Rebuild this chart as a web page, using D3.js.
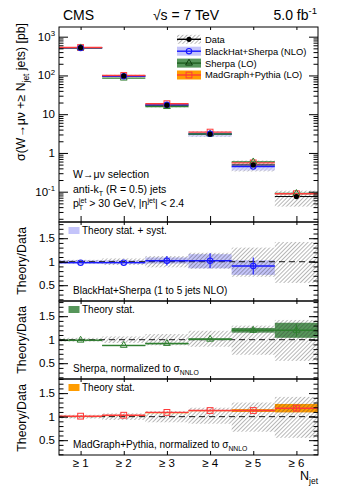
<!DOCTYPE html>
<html>
<head>
<meta charset="utf-8">
<script src="https://cdn.jsdelivr.net/npm/d3@7"></script>
<style>
  body { margin: 0; background: #fff; }
  text { font-family: "Liberation Sans", Arial, sans-serif; white-space: pre; fill: #000; }
</style>
</head>
<body>
<div id="chart"></div>
<script>
// values
const nJet = [1, 2, 3, 4, 5, 6];
const xLabels = ["≥ 1", "≥ 2", "≥ 3", "≥ 4", "≥ 5", "≥ 6"];
const dataXsec = [520, 97, 17.1, 3.05, 0.49, 0.075];
const dataErrUp = [0.04, 0.07, 0.12, 0.19, 0.30, 0.42];
const dataErrDown = [0.04, 0.07, 0.12, 0.15, 0.32, 0.45];

// BlackHat+Sherpa (NLO), only 1 to 5 jets
const bhRatio = [0.98, 0.98, 1.02, 1.02, 0.91];
const bhBandLow = [0.95, 0.95, 0.96, 0.86, 0.72];
const bhBandHigh = [1.03, 1.03, 1.09, 1.16, 1.03];
const bhErr = [0.01, 0.01, 0.10, 0.16, 0.18];

// Sherpa (LO)
const sherpaRatio = [0.99, 0.88, 0.92, 1.01, 1.20, 1.20];
const sherpaStat = [0.006, 0.006, 0.008, 0.02, 0.05, 0.16];
const sherpaErr = [0.01, 0.01, 0.01, 0.02, 0.06, 0.13];

// MadGraph+Pythia (LO)
const mgRatio = [1.01, 1.03, 1.09, 1.13, 1.13, 1.18];
const mgStat = [0.006, 0.006, 0.006, 0.01, 0.03, 0.09];
const mgErr = [0.01, 0.01, 0.01, 0.02, 0.03, 0.06];

const yMainTicks = [0.1, 1, 10, 100, 1000];
const yMainTickLabels = [["10", "-1"], ["1", ""], ["10", ""], ["10", "2"], ["10", "3"]];
const yRatioTicks = [0.5, 1, 1.5];
const yRatioTickLabels = ["0.5", "1", "1.5"];

// colours
const blue = "#1a1aff", blueBand = "#c4c4fa";
const green = "#2f7f2f", greenBand = "#56965a";
const red = "#ff3a3a", orangeBand = "#ff9c00";

const W = 357, H = 493;
const left = 59, right = 318;

const svg = d3.select("#chart").append("svg")
    .attr("width", W).attr("height", H);

const defs = svg.append("defs");
defs.append("pattern")
    .attr("id", "hatch")
    .attr("patternUnits", "userSpaceOnUse")
    .attr("width", 2.9).attr("height", 2.9)
    .attr("patternTransform", "rotate(45)")
  .append("line")
    .attr("x1", 0).attr("y1", 0).attr("x2", 0).attr("y2", 2.9)
    .attr("stroke", "#333").attr("stroke-width", 0.7);

// text with sub / superscripts
function rich(parent, x, y, parts, size, anchor, rotate) {
    const g = parent.append("g")
        .attr("transform", `translate(${x},${y})` + (rotate ? ` rotate(${rotate})` : ""));
    let cx = 0;
    parts.forEach(p => {
        const str = p[0], mode = p[1] || "n";
        if (mode === "n") {
            const t = g.append("text").attr("x", cx).attr("y", 0).attr("font-size", size).text(str);
            cx += t.node().getComputedTextLength();
        } else if (mode === "sub" || mode === "sup") {
            const t = g.append("text").attr("x", cx)
                .attr("y", mode === "sub" ? size * 0.3 : -size * 0.42)
                .attr("font-size", size * 0.68).text(str);
            cx += t.node().getComputedTextLength();
        } else {
            const a = g.append("text").attr("x", cx).attr("y", size * 0.32).attr("font-size", size * 0.68).text(str);
            const b = g.append("text").attr("x", cx).attr("y", -size * 0.42).attr("font-size", size * 0.68).text(p[2]);
            cx += Math.max(a.node().getComputedTextLength(), b.node().getComputedTextLength());
        }
    });
    const shift = anchor === "end" ? -cx : anchor === "middle" ? -cx / 2 : 0;
    if (shift) g.selectAll("text").attr("x", function() { return +this.getAttribute("x") + shift; });
    return g;
}

const x = d3.scaleLinear().domain([0.5, 6.5]).range([left, right]);
const binW = x(1.5) - x(0.5);

function clip(id, top, bottom) {
    defs.append("clipPath").attr("id", id)
      .append("rect").attr("x", left).attr("y", top).attr("width", right - left).attr("height", bottom - top);
}

function marker(g, type, cx, cy, color) {
    if (type === "circle") {
        g.append("circle").attr("cx", cx).attr("cy", cy).attr("r", 2.7)
            .attr("fill", "none").attr("stroke", color).attr("stroke-width", 1.1);
    } else if (type === "triangle") {
        g.append("path").attr("d", d3.symbol(d3.symbolTriangle, 20)())
            .attr("transform", `translate(${cx},${cy})`)
            .attr("fill", "none").attr("stroke", color).attr("stroke-width", 1);
    } else if (type === "square") {
        g.append("rect").attr("x", cx - 2.9).attr("y", cy - 2.9).attr("width", 5.8).attr("height", 5.8)
            .attr("fill", "none").attr("stroke", color).attr("stroke-width", 1);
    } else if (type === "dot") {
        g.append("circle").attr("cx", cx).attr("cy", cy).attr("r", 2.6).attr("fill", "#000");
    }
}

function xTicks(top, bottom, lenBottom, lenTop) {
    svg.append("g").attr("transform", `translate(0,${bottom})`)
        .call(d3.axisTop(x).tickValues(nJet).tickSize(lenBottom).tickFormat(""))
        .call(g => g.select(".domain").remove());
    svg.append("g").attr("transform", `translate(0,${top})`)
        .call(d3.axisBottom(x).tickValues(nJet).tickSize(lenTop).tickFormat(""))
        .call(g => g.select(".domain").remove());
}

function yTicks(scale, majors, minors) {
    [[d3.axisRight, left], [d3.axisLeft, right]].forEach(([ax, pos]) => {
        svg.append("g").attr("transform", `translate(${pos},0)`)
            .call(ax(scale).tickValues(majors).tickSize(9).tickFormat(""))
            .call(g => g.select(".domain").remove());
        svg.append("g").attr("transform", `translate(${pos},0)`)
            .call(ax(scale).tickValues(minors).tickSize(4.5).tickFormat(""))
            .call(g => g.select(".domain").remove());
    });
}

// ---------------- main panel ----------------
const mainTop = 27, mainBottom = 222;
const yMain = d3.scaleLog().domain([0.01652, 1778]).range([mainBottom, mainTop]);
clip("clipMain", mainTop, mainBottom);
const gm = svg.append("g").attr("clip-path", "url(#clipMain)");

nJet.forEach((n, i) => {
    const x0 = x(n - 0.5), d = dataXsec[i];
    // data uncertainty
    gm.append("rect").attr("x", x0).attr("width", binW)
        .attr("y", yMain(d * (1 + dataErrUp[i])))
        .attr("height", yMain(d * (1 - dataErrDown[i])) - yMain(d * (1 + dataErrUp[i])))
        .attr("fill", "url(#hatch)");
    // theory band (BlackHat stat + syst)
    if (i < bhRatio.length) {
        gm.append("rect").attr("x", x0).attr("width", binW)
            .attr("y", yMain(d * bhBandHigh[i]))
            .attr("height", Math.max(1.5, yMain(d * bhBandLow[i]) - yMain(d * bhBandHigh[i])))
            .attr("fill", blueBand).attr("opacity", 0.7);
    }
    // data line
    gm.append("line").attr("x1", x0).attr("x2", x0 + binW)
        .attr("y1", yMain(d)).attr("y2", yMain(d)).attr("stroke", "#000").attr("stroke-width", 1);
    // theory lines
    const lines = [[sherpaRatio, green], [mgRatio, red]];
    if (i < bhRatio.length) lines.unshift([bhRatio, blue]);
    lines.forEach(([r, c]) => {
        gm.append("line").attr("x1", x0).attr("x2", x0 + binW)
            .attr("y1", yMain(d * r[i])).attr("y2", yMain(d * r[i]))
            .attr("stroke", c).attr("stroke-width", 1.4);
    });
    marker(gm, "square", x(n), yMain(d * mgRatio[i]), red);
    marker(gm, "triangle", x(n), yMain(d * sherpaRatio[i]), green);
    if (i < bhRatio.length) marker(gm, "circle", x(n), yMain(d * bhRatio[i]), blue);
    marker(gm, "dot", x(n), yMain(d), "#000");
});

const logMinors = [];
[0.01, 0.1, 1, 10, 100, 1000].forEach(dec => d3.range(2, 10).forEach(m => {
    const v = m * dec;
    if (v > 0.01652 && v < 1778) logMinors.push(v);
}));
yTicks(yMain, yMainTicks, logMinors);
xTicks(mainTop, mainBottom, 6, 3);

yMainTicks.forEach((v, i) => {
    const [base, exp] = yMainTickLabels[i];
    const parts = [[base]];
    if (exp) parts.push([exp, "sup"]);
    rich(svg, 55, yMain(v) + 4, parts, 11.5, "end");
});

svg.append("rect").attr("x", left).attr("y", mainTop).attr("width", right - left).attr("height", mainBottom - mainTop)
    .attr("fill", "none").attr("stroke", "#000").attr("stroke-width", 1);

// header
svg.append("text").attr("x", 63).attr("y", 20).attr("font-size", 14).text("CMS");
svg.append("text").attr("x", 186).attr("y", 20).attr("font-size", 14).attr("text-anchor", "middle").text("√s = 7 TeV");
rich(svg, 317, 20, [["5.0 fb"], ["-1", "sup"]], 14, "end");

// y title
rich(svg, 25, 23, [["σ(W→μν +≥ N"], ["jet", "sub"], [" jets) [pb]"]], 12.3, "end", -90);

// legend
const legend = [
    { label: "Data", fill: "url(#hatch)", line: "#000", m: "dot", mc: "#000" },
    { label: "BlackHat+Sherpa (NLO)", fill: blueBand, line: blue, m: "circle", mc: blue },
    { label: "Sherpa (LO)", fill: greenBand, line: "#1f5f1f", m: "triangle", mc: "#0f3f0f" },
    { label: "MadGraph+Pythia (LO)", fill: orangeBand, line: red, m: "square", mc: red }
];
legend.forEach((l, i) => {
    const cy = 39.3 + i * 11.9;
    const g = svg.append("g");
    g.append("rect").attr("x", 177).attr("y", cy - 4.5).attr("width", 24).attr("height", 9).attr("fill", l.fill);
    g.append("line").attr("x1", 177).attr("x2", 201).attr("y1", cy).attr("y2", cy)
        .attr("stroke", l.line).attr("stroke-width", 1.4);
    marker(g, l.m, 189, cy, l.mc);
    g.append("text").attr("x", 205).attr("y", cy + 3.4).attr("font-size", 9.4).text(l.label);
});

// selection text
rich(svg, 73, 178, [["W→μν selection"]], 10.5);
rich(svg, 73, 193, [["anti-k"], ["T", "sub"], [" (R = 0.5) jets"]], 10.5);
rich(svg, 73, 207, [["p"], ["T", "subsup", "jet"], [" > 30 GeV, |η"], ["jet", "sup"], ["| < 2.4"]], 10.5);

// ---------------- ratio panels ----------------
const ratioPanels = [
    { top: 222, bottom: 301, domain: [0.164, 1.845], ratio: bhRatio, low: bhBandLow, high: bhBandHigh,
      err: bhErr, color: blue, band: blueBand, m: "circle", legend: "Theory stat. + syst.",
      note: [["BlackHat+Sherpa (1 to 5 jets NLO)"]] },
    { top: 301, bottom: 379, domain: [0.164, 1.823], ratio: sherpaRatio,
      low: sherpaRatio.map((r, i) => r - sherpaStat[i]), high: sherpaRatio.map((r, i) => r + sherpaStat[i]),
      err: sherpaErr, color: green, band: greenBand, m: "triangle", legend: "Theory stat.",
      note: [["Sherpa, normalized to σ"], ["NNLO", "sub"]] },
    { top: 379, bottom: 455, domain: [0.185, 1.80], ratio: mgRatio,
      low: mgRatio.map((r, i) => r - mgStat[i]), high: mgRatio.map((r, i) => r + mgStat[i]),
      err: mgErr, color: red, band: orangeBand, m: "square", legend: "Theory stat.",
      note: [["MadGraph+Pythia, normalized to σ"], ["NNLO", "sub"]] }
];

ratioPanels.forEach((p, k) => {
    const y = d3.scaleLinear().domain(p.domain).range([p.bottom, p.top]);
    clip("clipR" + k, p.top, p.bottom);
    const g = svg.append("g").attr("clip-path", `url(#clipR${k})`);

    p.ratio.forEach((r, i) => {
        const x0 = x(nJet[i] - 0.5);
        g.append("rect").attr("x", x0).attr("width", binW)
            .attr("y", y(p.high[i])).attr("height", Math.max(1.2, y(p.low[i]) - y(p.high[i])))
            .attr("fill", p.band);
    });
    nJet.forEach((n, i) => {
        g.append("rect").attr("x", x(n - 0.5)).attr("width", binW)
            .attr("y", y(1 + dataErrUp[i])).attr("height", y(1 - dataErrDown[i]) - y(1 + dataErrUp[i]))
            .attr("fill", "url(#hatch)");
    });
    g.append("line").attr("x1", left).attr("x2", right).attr("y1", y(1)).attr("y2", y(1))
        .attr("stroke", "#000").attr("stroke-width", 0.9).attr("stroke-dasharray", "6,4");
    p.ratio.forEach((r, i) => {
        const n = nJet[i];
        g.append("line").attr("x1", x(n - 0.5)).attr("x2", x(n + 0.5)).attr("y1", y(r)).attr("y2", y(r))
            .attr("stroke", p.color).attr("stroke-width", 1.4);
        g.append("line").attr("x1", x(n)).attr("x2", x(n)).attr("y1", y(r - p.err[i])).attr("y2", y(r + p.err[i]))
            .attr("stroke", p.color).attr("stroke-width", 1.1);
        marker(g, p.m, x(n), y(r), p.color);
    });

    yTicks(y, yRatioTicks, d3.range(2, 19).map(v => v / 10));
    xTicks(p.top, p.bottom, k === 2 ? 4 : 3, 3);
    yRatioTicks.forEach((v, i) => {
        svg.append("text").attr("x", 55).attr("y", y(v) + 4).attr("font-size", 11.5)
            .attr("text-anchor", "end").text(yRatioTickLabels[i]);
    });

    svg.append("rect").attr("x", 68.5).attr("y", p.top + 5).attr("width", 11).attr("height", 7).attr("fill", p.band);
    svg.append("text").attr("x", 82).attr("y", p.top + 11.5).attr("font-size", 10).text(p.legend);
    rich(svg, 73, p.bottom - 7, p.note, 10);
    rich(svg, 26, p.top + 5, [["Theory/Data"]], 12.3, "end", -90);

    svg.append("rect").attr("x", left).attr("y", p.top).attr("width", right - left).attr("height", p.bottom - p.top)
        .attr("fill", "none").attr("stroke", "#000").attr("stroke-width", 1);
});

// x labels
nJet.forEach((n, i) => {
    svg.append("text").attr("x", x(n)).attr("y", 467).attr("font-size", 11.5)
        .attr("text-anchor", "middle").text(xLabels[i]);
});
rich(svg, 318, 480, [["N"], ["jet", "sub"]], 12.5, "end");
</script>
</body>
</html>
